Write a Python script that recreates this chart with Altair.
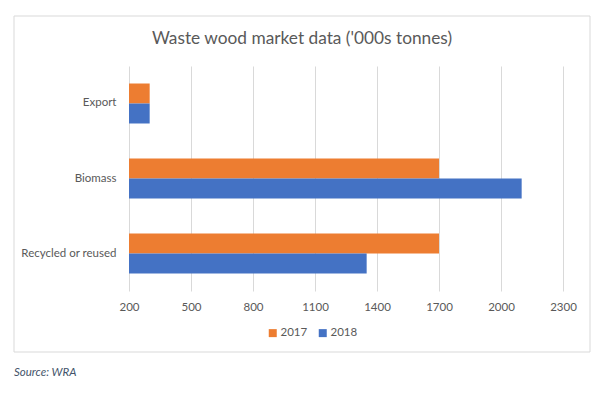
import altair as alt
import pandas as pd

categories = ["Export", "Biomass", "Recycled or reused"]
years = ["2017", "2018"]
values_2017 = [300, 1700, 1700]
values_2018 = [300, 2100, 1350]
x_ticks = [200, 500, 800, 1100, 1400, 1700, 2000, 2300]
title_text = "Waste wood market data ('000s tonnes)"
source_text = ["Source: WRA"]

rows = []
for c, a, b in zip(categories, values_2017, values_2018):
    rows.append({"category": c, "year": "2017", "value": a})
    rows.append({"category": c, "year": "2018", "value": b})
df = pd.DataFrame(rows)

FONT = "Lato"
GRAY = "#595959"
LS = 11.5

bars = alt.Chart(df).mark_bar().encode(
    y=alt.Y("category:N", sort=categories, title=None,
            scale=alt.Scale(paddingInner=0.4667, paddingOuter=0.2333),
            axis=alt.Axis(domain=False, ticks=False, grid=False, labelPadding=13,
                          labelFontSize=LS, labelColor=GRAY, labelFont=FONT)),
    yOffset=alt.YOffset("year:N", sort=years, scale=alt.Scale(paddingInner=0, paddingOuter=0)),
    x=alt.X("value:Q", title=None,
            scale=alt.Scale(domain=[200, 2300], nice=False, zero=False),
            axis=alt.Axis(values=x_ticks, format="d", domain=False, ticks=False, grid=True,
                          gridColor="#D9D9D9", gridWidth=1, labelPadding=10, labelFlush=False,
                          labelFontSize=LS, labelColor=GRAY, labelFont=FONT)),
    x2=alt.datum(200),
    color=alt.Color("year:N", sort=years, title=None,
                    scale=alt.Scale(domain=years, range=["#ED7D31", "#4472C4"]),
                    legend=alt.Legend(orient="none", direction="horizontal",
                                      legendX=138, legendY=261, symbolType="square",
                                      symbolSize=64, symbolStrokeWidth=0, symbolOpacity=1,
                                      labelFontSize=LS, labelColor=GRAY, labelFont=FONT,
                                      labelOffset=2, columnPadding=9, padding=0)),
)

frame = alt.Chart(pd.DataFrame({"d": [0]})).mark_rect(
    fill=None, stroke="#D9D9D9", strokeWidth=1
).encode(
    x=alt.value(-115), x2=alt.value(461), y=alt.value(-50), y2=alt.value(286)
)

source = alt.Chart(pd.DataFrame({"t": source_text})).mark_text(
    align="left", baseline="alphabetic", font=FONT, fontSize=11.5,
    fontStyle="italic", color="#44546A"
).encode(
    x=alt.value(-115), y=alt.value(310), text="t:N"
)

chart = alt.layer(frame, bars, source).properties(
    width=434, height=225,
    title=alt.TitleParams(title_text, font=FONT, fontSize=17.3, fontWeight="normal",
                          color=GRAY, anchor="middle", dx=-44, offset=-32),
    autosize=alt.AutoSizeParams(type="none"),
    padding={"left": 121, "top": 58, "right": 37, "bottom": 93},
).configure_view(stroke=None)

chart.save("out.html", embed_options={"renderer": "svg", "actions": False})
